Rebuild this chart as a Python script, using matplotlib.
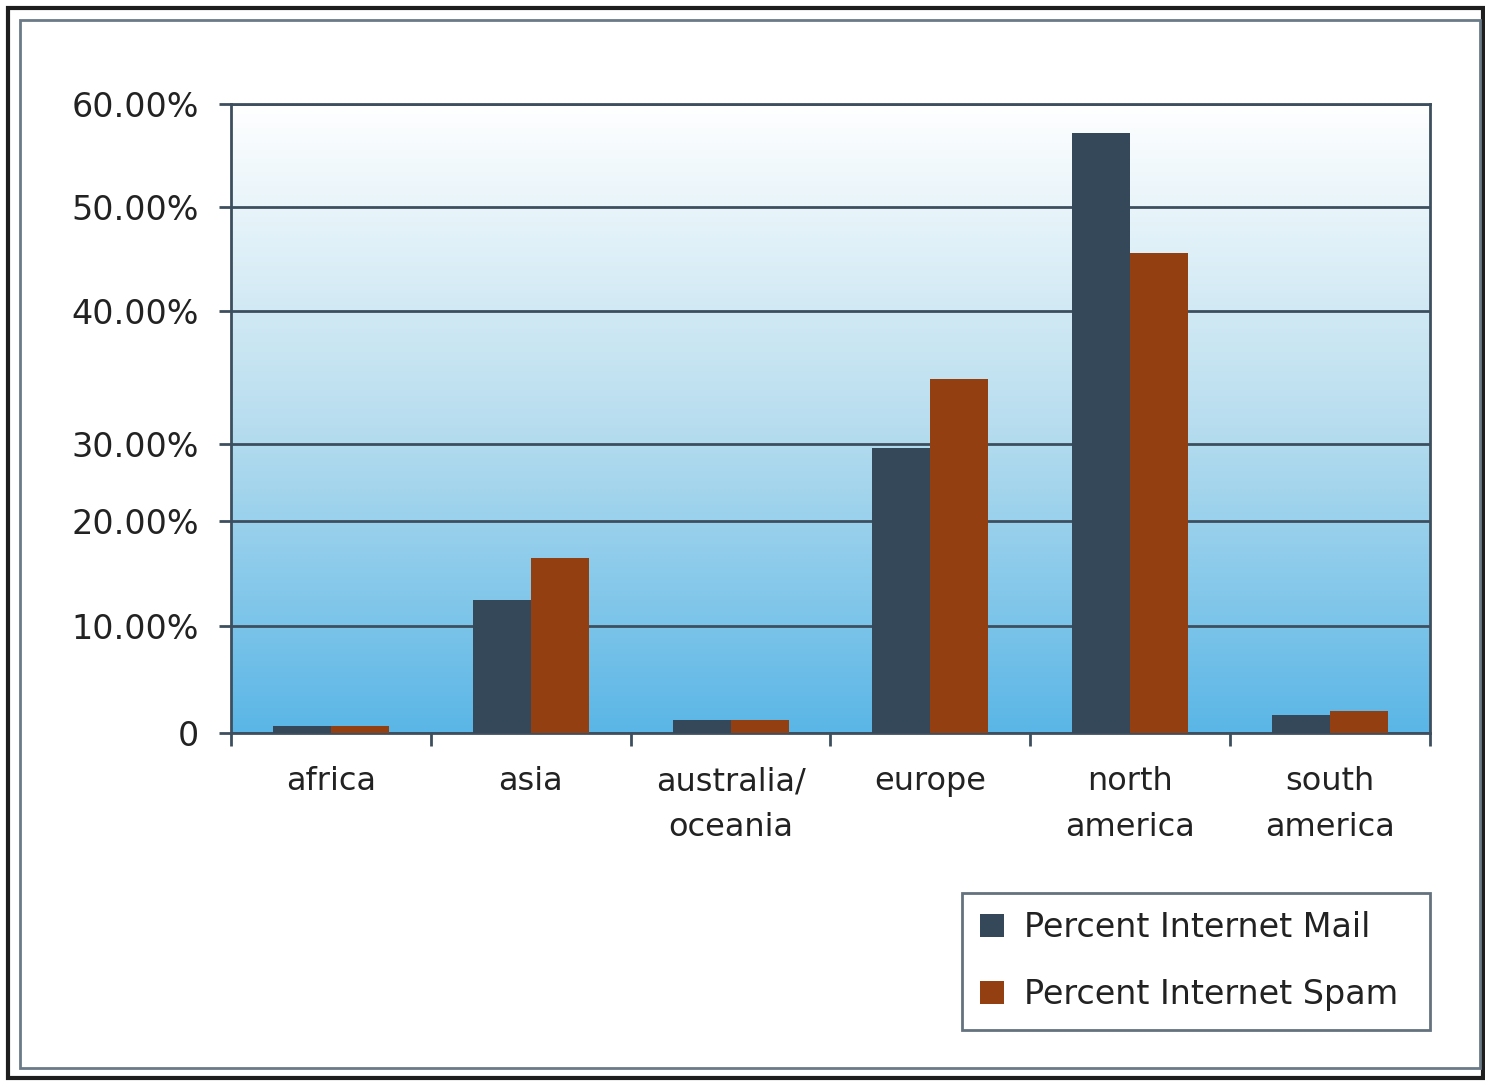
import numpy as np
import matplotlib
matplotlib.use("Agg")
import matplotlib.pyplot as plt
from matplotlib.patches import Rectangle
from matplotlib.colors import LinearSegmentedColormap

regions = ["africa", "asia", "australia/\noceania", "europe", "north\namerica", "south\namerica"]
mail = [0.7, 12.5, 1.2, 29.5, 57.2, 1.7]
spam = [0.7, 16.5, 1.2, 34.9, 45.6, 2.1]

y_ticks = [0, 10, 20, 30, 40, 50, 60]
y_labels = ["0", "10.00%", "20.00%", "30.00%", "40.00%", "50.00%", "60.00%"]
# the original chart spaces its gridlines unevenly; reproduce that spacing
y_screen = [0, 107, 212, 289, 422, 526, 629]

mail_color = "#34485a"
spam_color = "#943f12"
line_color = "#3d4f5e"

plt.rcParams["font.family"] = "DejaVu Sans"

fig = plt.figure(figsize=(14.85, 10.83), dpi=100)
W, H = 1485, 1083
ax = fig.add_axes([231 / W, 1 - 733 / H, (1430 - 231) / W, (733 - 104) / H])


def fwd(v):
    return np.interp(v, y_ticks, y_screen)


def inv(h):
    return np.interp(h, y_screen, y_ticks)


ax.set_yscale("function", functions=(fwd, inv))

# gradient background
grad = np.linspace(0, 1, 256).reshape(-1, 1)
cmap = LinearSegmentedColormap.from_list("bg", ["#ffffff", "#b9deef", "#5ab6e6"])
ax.imshow(grad, aspect="auto", cmap=cmap, extent=[0, 1, 0, 1],
          transform=ax.transAxes, zorder=0)

x = np.arange(len(regions))
w = 0.29
ax.bar(x - w, mail, w, align="edge", color=mail_color, label="Percent Internet Mail", zorder=3)
ax.bar(x, spam, w, align="edge", color=spam_color, label="Percent Internet Spam", zorder=3)

ax.set_xlim(-0.5, len(regions) - 0.5)
ax.set_ylim(0, 60)
ax.set_yticks(y_ticks)
ax.set_yticklabels(y_labels)
ax.yaxis.grid(True, color=line_color, linewidth=2, zorder=1)
ax.set_axisbelow(True)

ax.set_xticks(x)
ax.set_xticklabels(regions, linespacing=1.6)
ax.set_xticks(np.arange(-0.5, len(regions)), minor=True)
ax.tick_params(axis="x", which="major", length=0, pad=24, labelsize=23, labelcolor="#222222")
ax.tick_params(axis="x", which="minor", length=9, width=2, color=line_color)
ax.tick_params(axis="y", length=9, width=2, color=line_color, pad=14, labelsize=24,
               labelcolor="#222222")

for s in ax.spines.values():
    s.set_color(line_color)
    s.set_linewidth(2)

leg = fig.legend(loc="upper left", bbox_to_anchor=(962 / W, 1 - 1031 / H, 468 / W, 138 / H),
                 mode="expand", fontsize=24, frameon=True, fancybox=False, handlelength=0.7,
                 handleheight=0.7, handletextpad=0.6, labelspacing=1.02,
                 borderpad=0.55, borderaxespad=0, labelcolor="#222222")
leg.get_frame().set_edgecolor("#3d4f5e")
leg.get_frame().set_linewidth(2)

# outer frames
fig.patches.append(Rectangle((8 / W, 1 - 1078 / H), 1475 / W, 1070 / H, transform=fig.transFigure,
                             fill=False, edgecolor="#1e1e1e", linewidth=3))
fig.patches.append(Rectangle((20 / W, 1 - 1068 / H), 1460 / W, 1048 / H, transform=fig.transFigure,
                             fill=False, edgecolor="#6a7a88", linewidth=2))

fig.savefig("out.png", dpi=100)
